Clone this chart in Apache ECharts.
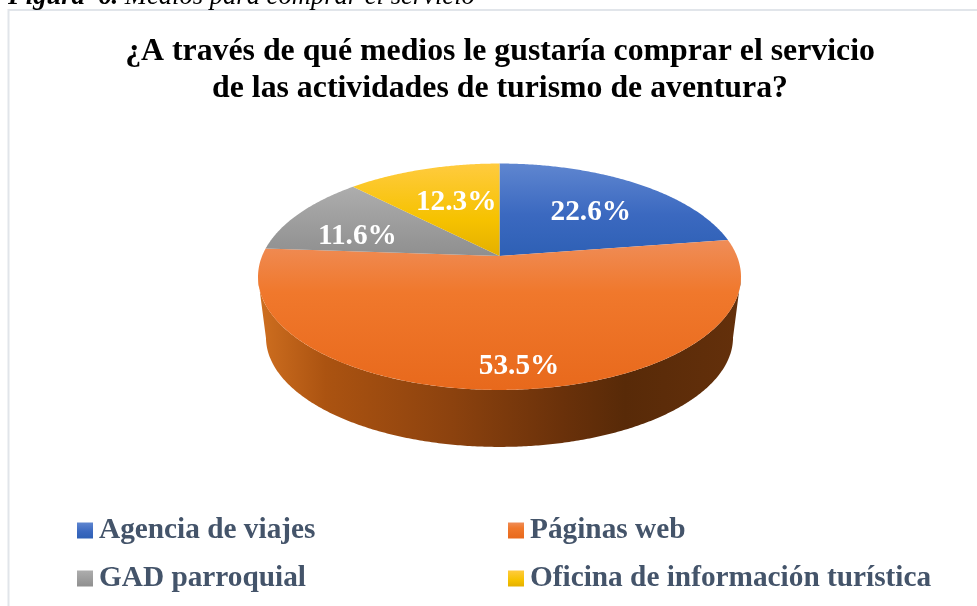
<!DOCTYPE html>
<html><head><meta charset="utf-8">
<style>html,body{margin:0;padding:0;background:#fff}#c{width:977px;height:606px}</style>
<script src="https://cdn.jsdelivr.net/npm/echarts@6/dist/echarts.min.js"></script>
</head><body><div id="c"></div>
<script>
const categories = ['Agencia de viajes', 'Páginas web', 'GAD parroquial', 'Oficina de información turística'];
const values = [22.6, 53.5, 11.6, 12.3];

const FONT = '"Liberation Serif","Times New Roman",serif';
const grad = (stops) => new echarts.graphic.LinearGradient(0, 0, 0, 1, stops.map(([offset, color]) => ({offset, color})));
const faceColors = [
  () => grad([[0, '#5f86d0'], [0.55, '#3b69c0'], [1, '#2e60b5']]),
  () => grad([[0, '#ef8d58'], [0.35, '#f0782c'], [1, '#e8691c']]),
  () => grad([[0, '#adadad'], [1, '#8f8f8f']]),
  () => grad([[0, '#ffcb3f'], [0.6, '#f6c200'], [1, '#e4b000']])
];
const labelPlace = [[0.62, 3, 4], [0.836, 10, 3], [0.7, 1, 11], [0.58, 4, 0]];

const P = {cx: 499.5, cy: 256, A: 237.4, B: 109.4, k: 0.1832, s: 0.967, y0: 317.4};
const project = (deg, r, s, oy) => {
  const t = deg * Math.PI / 180, u = r * Math.sin(t), v = r * Math.cos(t), w = 1 + P.k * v;
  return [P.cx + s * P.A * u / w, oy - s * P.B * v / w];
};
const total = values.reduce((a, b) => a + b, 0);
const starts = values.map((_, i) => values.slice(0, i).reduce((a, b) => a + b, 0) / total * 360);
const frontFrom = 180 - Math.acos(P.k) * 180 / Math.PI, frontTo = 360 - frontFrom;

function renderSlice(i) {
  return function (params, api) {
    const val = api.value(0), a0 = starts[i], a1 = a0 + val / total * 360;
    const children = [];
    const w0 = Math.max(a0, frontFrom), w1 = Math.min(a1, frontTo);
    if (w1 > w0) {
      const top = [], bot = [];
      for (let d = w0; d <= w1; d += 0.5) {
        top.push(project(d, 1, 1, P.cy));
        bot.unshift(project(d, 1, P.s, P.y0));
      }
      children.push({type: 'polygon', shape: {points: top.concat(bot)}, style: {
        fill: new echarts.graphic.LinearGradient(0, 0, 1, 0, [
          {offset: 0, color: '#cf6f20'}, {offset: 0.14, color: '#ab5311'}, {offset: 0.4, color: '#8c420e'},
          {offset: 0.63, color: '#6a310a'}, {offset: 0.76, color: '#582a08'}, {offset: 1, color: '#64300b'}])
      }});
    }
    const pts = [[P.cx, P.cy]];
    for (let d = a0; d < a1; d += 0.5) pts.push(project(d, 1, 1, P.cy));
    pts.push(project(a1, 1, 1, P.cy));
    children.push({type: 'polygon', shape: {points: pts}, style: {fill: faceColors[i]()}});
    const [r, dx, dy] = labelPlace[i];
    const lp = project((a0 + a1) / 2, r, 1, P.cy);
    children.push({type: 'text', z2: 100, style: {
      x: lp[0] + dx, y: lp[1] + dy, text: val.toFixed(1) + '%', fill: '#fff', align: 'center', verticalAlign: 'middle',
      font: 'bold 29.3px ' + FONT
    }});
    return {type: 'group', children};
  };
}

const legendBase = {
  orient: 'vertical', icon: 'rect', itemWidth: 16, itemHeight: 16, itemGap: 11, top: 512, padding: 0,
  textStyle: {fontFamily: FONT, fontWeight: 'bold', fontSize: 29.3, color: '#44546a', lineHeight: 34, padding: [3, 0, 0, 1]}
};

const chart = echarts.init(document.getElementById('c'), null, {renderer: 'canvas'});
const capStyle = {fontFamily: FONT, fontStyle: 'italic', fontSize: 26.6, fill: '#000', lineHeight: 30};
chart.setOption({
  animation: false,
  backgroundColor: '#fff',
  title: {
    text: '¿A través de qué medios le gustaría comprar el servicio\nde las actividades de turismo de aventura?',
    left: 500, top: 33, textAlign: 'center', padding: 0,
    textStyle: {fontFamily: FONT, fontWeight: 'bold', fontSize: 31.8, lineHeight: 37, color: '#000'}
  },
  legend: [
    Object.assign({}, legendBase, {left: 77, data: [categories[0], categories[2]]}),
    Object.assign({}, legendBase, {left: 508, data: [categories[1], categories[3]]})
  ],
  graphic: [
    {type: 'rect', z: -1, shape: {x: 8.5, y: 10, width: 1100, height: 800}, style: {fill: '#fff', stroke: '#e1e5ea', lineWidth: 2}},
    {type: 'text', x: 8, y: -18, style: Object.assign({}, capStyle, {
      text: '{b|Figura  6.} {i|Medios para comprar el servicio}',
      rich: {
        b: Object.assign({}, capStyle, {fontWeight: 'bold'}),
        i: Object.assign({}, capStyle, {fontWeight: 'normal'})
      }
    })}
  ],
  series: categories.map((name, i) => ({
    type: 'custom', name, coordinateSystem: 'none', silent: true,
    itemStyle: {color: faceColors[i]()},
    data: [[values[i]]],
    renderItem: renderSlice(i)
  }))
});
</script></body></html>
